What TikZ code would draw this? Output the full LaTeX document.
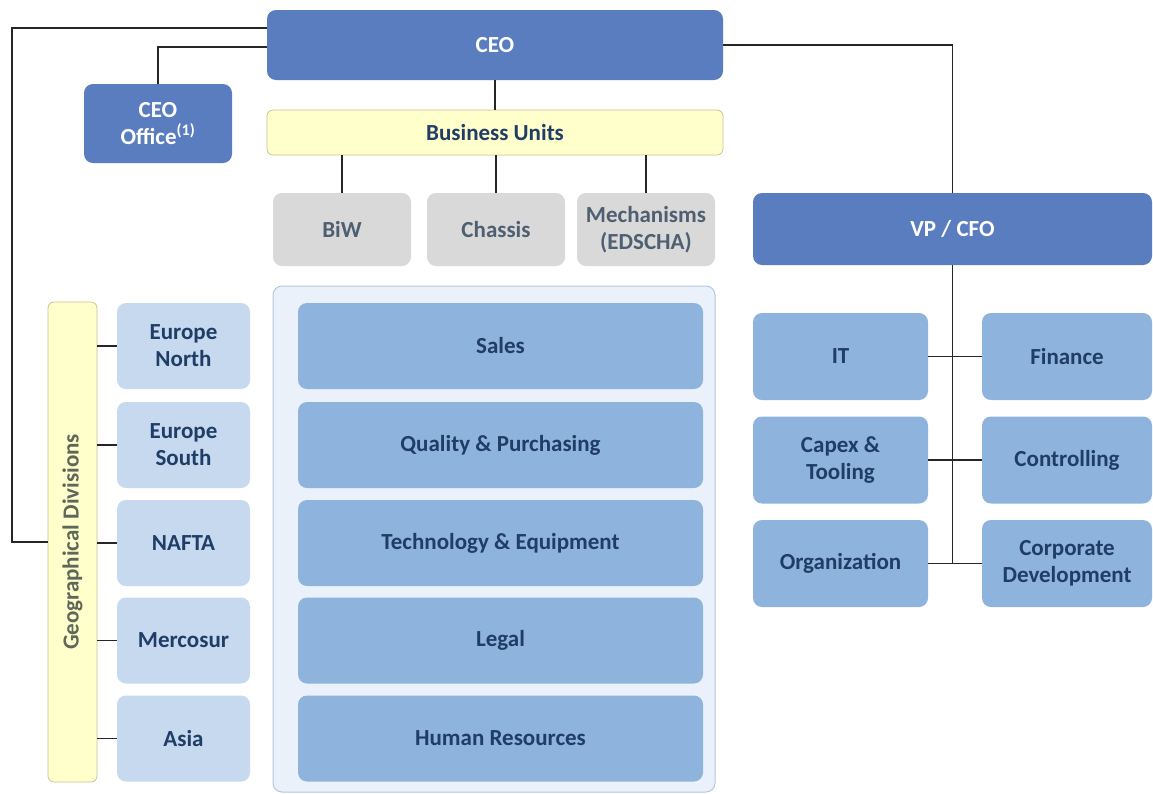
\documentclass[tikz,border=0pt]{standalone}
\usepackage{fontspec}
\setmainfont{Carlito}
\definecolor{ceoblue}{HTML}{5A7DC0}
\definecolor{midblue}{HTML}{8EB3DD}
\definecolor{geoblue}{HTML}{C6D9EF}
\definecolor{contfill}{HTML}{EAF1FA}
\definecolor{contline}{HTML}{B4C7E0}
\definecolor{buyellow}{HTML}{FFFFCC}
\definecolor{buline}{HTML}{C9C393}
\definecolor{grayfill}{HTML}{D9D9D9}
\definecolor{graytext}{HTML}{4F5F72}
\definecolor{navy}{HTML}{1F3D66}
\definecolor{geotext}{HTML}{5F665A}
\begin{document}
\begin{tikzpicture}[x=1pt,y=-1pt,
  base/.style={rounded corners=9pt, inner sep=2pt, align=center, font=\fontsize{23}{27}\selectfont\bfseries},
  ceobox/.style={base, fill=ceoblue, text=white},
  midbox/.style={base, fill=midblue, text=navy},
  geobox/.style={base, fill=geoblue, text=navy},
  graybox/.style={base, fill=grayfill, text=graytext},
  yelbox/.style={base, fill=buyellow, draw=buline, line width=0.8pt, text=navy, rounded corners=6pt},
  conn/.style={draw=black!85, line width=1.5pt}
]
\useasboundingbox (0,0) rectangle (1153,793);
\fill[white] (0,0) rectangle (1153,793);

% top level
\node[ceobox, minimum width=456pt, minimum height=70pt] (ceo) at (495,45) {CEO};
\node[ceobox, minimum width=148pt, minimum height=79pt] (office) at (158,123.5) {CEO\\Office\textsuperscript{(1)}};
\node[yelbox, minimum width=456pt, minimum height=45pt] (bu) at (495,132.5) {Business Units};

% business units
\node[graybox, minimum width=138pt, minimum height=73pt] (biw) at (342,229.5) {BiW};
\node[graybox, minimum width=138pt, minimum height=73pt] (chassis) at (496,229.5) {Chassis};
\node[graybox, minimum width=138pt, minimum height=73pt] (mech) at (646,229.5) {Mechanisms\\(EDSCHA)};

% VP / CFO
\node[ceobox, minimum width=399pt, minimum height=72pt] (vp) at (952.5,229) {VP / CFO};
\node[midbox, minimum width=175pt, minimum height=87pt] (it) at (840.5,356.5) {IT};
\node[midbox, minimum width=170pt, minimum height=87pt] (fin) at (1067,356.5) {Finance};
\node[midbox, minimum width=175pt, minimum height=87pt] (capex) at (840.5,460) {Capex \&\\Tooling};
\node[midbox, minimum width=170pt, minimum height=87pt] (ctrl) at (1067,460) {Controlling};
\node[midbox, minimum width=175pt, minimum height=87pt] (org) at (840.5,563.5) {Organization};
\node[midbox, minimum width=170pt, minimum height=87pt] (corp) at (1067,563.5) {Corporate\\Development};

% geographical divisions
\node[yelbox, minimum width=49pt, minimum height=480pt, text=geotext] (geo) at (72.5,542) {};
\node[rotate=90, text=geotext, font=\fontsize{23}{27}\selectfont\bfseries] (geolabel) at (geo.center) {Geographical Divisions};
\node[geobox, minimum width=133pt, minimum height=86pt] (en) at (183.5,346) {Europe\\North};
\node[geobox, minimum width=133pt, minimum height=86pt] (es) at (183.5,445) {Europe\\South};
\node[geobox, minimum width=133pt, minimum height=86pt] (nafta) at (183.5,543) {NAFTA};
\node[geobox, minimum width=133pt, minimum height=86pt] (merc) at (183.5,640.5) {Mercosur};
\node[geobox, minimum width=133pt, minimum height=86pt] (asia) at (183.5,738.5) {Asia};

% functions container
\node[base, fill=contfill, draw=contline, line width=1pt, minimum width=442pt, minimum height=506pt] (cont) at (494,539) {};
\node[midbox, minimum width=405pt, minimum height=86pt] (sales) at (500.5,346) {Sales};
\node[midbox, minimum width=405pt, minimum height=86pt] (qp) at (500.5,445) {Quality \& Purchasing};
\node[midbox, minimum width=405pt, minimum height=86pt] (tech) at (500.5,543) {Technology \& Equipment};
\node[midbox, minimum width=405pt, minimum height=86pt] (legal) at (500.5,640.5) {Legal};
\node[midbox, minimum width=405pt, minimum height=86pt] (hr) at (500.5,738.5) {Human Resources};

% connectors
\draw[conn] ([yshift=-18pt]ceo.north west) -- ++(-255pt,0) |- (geo.west);
\draw[conn] ([yshift=-37pt]ceo.north west) -| (office.north);
\draw[conn] (ceo.south) -- (bu.north);
\draw[conn] (biw.north) -- (biw.north |- bu.south);
\draw[conn] (chassis.north) -- (chassis.north |- bu.south);
\draw[conn] (mech.north) -- (mech.north |- bu.south);
\draw[conn] (ceo.east) -| (vp.north);
\draw[conn] (vp.south) -- (vp.south |- org.east);
\draw[conn] (it.east) -- (fin.west);
\draw[conn] (capex.east) -- (ctrl.west);
\draw[conn] (org.east) -- (corp.west);
\foreach \b in {en,es,nafta,merc,asia}{
  \draw[conn] (geo.east |- \b.west) -- (\b.west);
}
\end{tikzpicture}
\end{document}
